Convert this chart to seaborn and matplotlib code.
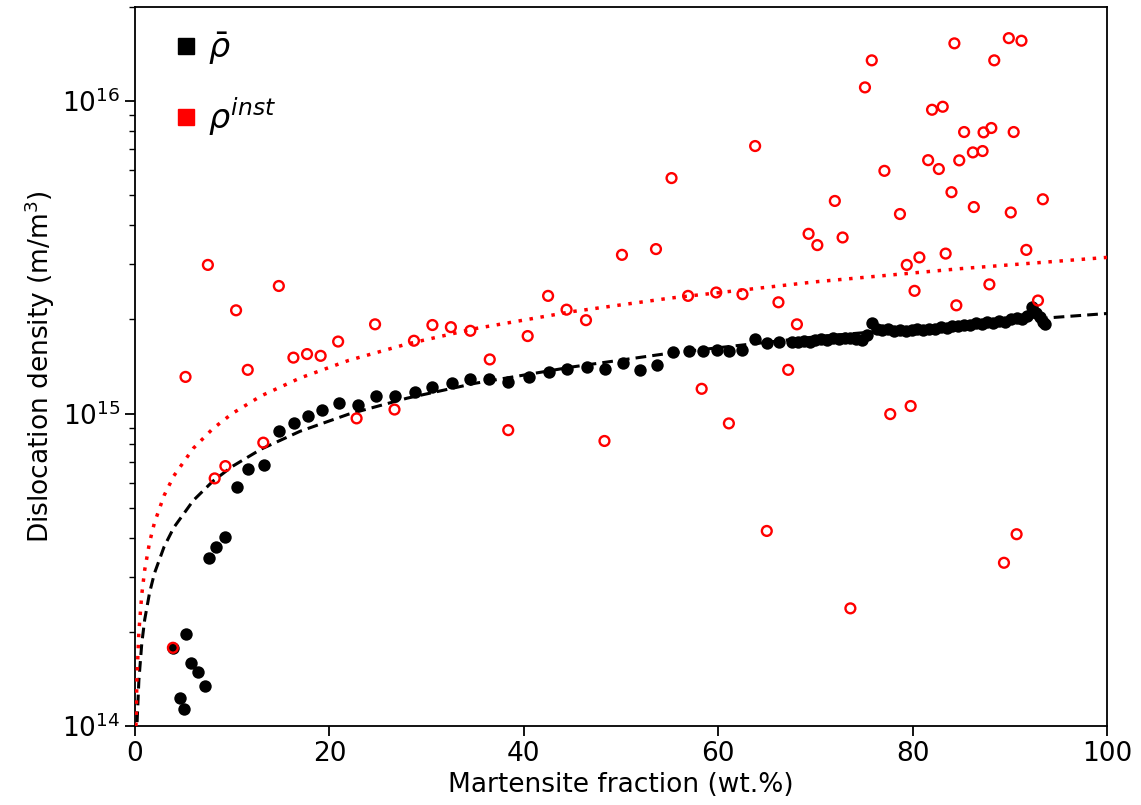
import numpy as np
import pandas as pd
import matplotlib
matplotlib.use("Agg")
import matplotlib.pyplot as plt
import seaborn as sns
from matplotlib.lines import Line2D


# ----------------------------
# Data
# ----------------------------

# mean dislocation density (filled black dots)
mean_frac = [3.9, 4.6, 5.0, 5.3, 5.8, 6.5, 7.2, 7.6, 8.3, 9.3, 10.5, 11.6, 13.3,
             14.8, 16.4, 17.8, 19.2, 21.0, 22.9, 24.8, 26.8, 28.8, 30.6, 32.6,
             34.5, 36.4, 38.4, 40.5, 42.6, 44.4, 46.5, 48.4, 50.2, 52.0, 53.7,
             55.3, 57.0, 58.4, 59.9, 61.1, 62.5, 63.8, 65.0, 66.3, 67.6,
             68.2, 68.8, 69.4, 70.0, 70.6, 71.2, 71.8, 72.4, 73.0, 73.6, 74.2,
             74.8, 75.3, 75.8, 76.3, 76.9, 77.5, 78.1, 78.7, 79.3, 79.9, 80.5,
             81.1, 81.7, 82.3, 82.9, 83.5, 84.1, 84.7, 85.3, 85.9, 86.5, 87.1,
             87.7, 88.3, 88.9, 89.5, 90.1, 90.7, 91.3, 91.8, 92.3, 92.7, 93.1,
             93.4, 93.6]
mean_rho = [1.78e14, 1.23e14, 1.13e14, 1.97e14, 1.59e14, 1.49e14, 1.34e14,
            3.45e14, 3.74e14, 4.03e14, 5.83e14, 6.67e14, 6.84e14, 8.81e14,
            9.35e14, 9.82e14, 1.026e15, 1.08e15, 1.065e15, 1.134e15, 1.134e15,
            1.176e15, 1.216e15, 1.252e15, 1.294e15, 1.29e15, 1.266e15, 1.306e15,
            1.354e15, 1.388e15, 1.409e15, 1.388e15, 1.454e15, 1.378e15, 1.43e15,
            1.573e15, 1.589e15, 1.589e15, 1.595e15, 1.582e15, 1.595e15, 1.731e15,
            1.68e15, 1.697e15, 1.697e15,
            1.70e15, 1.71e15, 1.70e15, 1.72e15, 1.73e15, 1.72e15, 1.74e15,
            1.73e15, 1.75e15, 1.74e15, 1.73e15, 1.72e15, 1.78e15, 1.95e15,
            1.86e15, 1.85e15, 1.86e15, 1.84e15, 1.85e15, 1.84e15, 1.85e15,
            1.86e15, 1.85e15, 1.87e15, 1.87e15, 1.89e15, 1.88e15, 1.91e15,
            1.90e15, 1.92e15, 1.92e15, 1.95e15, 1.93e15, 1.96e15, 1.95e15,
            1.98e15, 1.97e15, 2.00e15, 2.02e15, 2.01e15, 2.05e15, 2.20e15,
            2.10e15, 2.03e15, 1.96e15, 1.94e15]

# instantaneous dislocation density (red open circles)
inst_frac = [3.9, 5.2, 7.5, 8.2, 9.3, 10.4, 11.6, 13.2, 14.8, 16.3, 17.7, 19.1,
             20.9, 22.8, 24.7, 26.7, 28.7, 30.6, 32.5, 34.5, 36.5, 38.4, 40.4,
             42.5, 44.4, 46.4, 48.3, 50.1, 53.6, 55.2, 56.9, 58.3, 59.8, 61.1,
             62.5, 63.8, 65.0, 66.2, 67.2, 68.1, 69.3, 70.2, 72.0, 72.8, 73.6,
             75.1, 75.8, 77.1, 77.7, 78.7, 79.4, 79.8, 80.2, 80.7, 81.6, 82.0,
             82.7, 83.1, 83.4, 84.0, 84.3, 84.5, 84.8, 85.3, 86.2, 86.3, 87.2,
             87.3, 87.9, 88.1, 88.4, 89.4, 89.9, 90.1, 90.4, 90.7, 91.2, 91.7,
             92.9, 93.4]
inst_rho = [1.78e14, 1.31e15, 2.99e15, 6.20e14, 6.79e14, 2.14e15, 1.38e15,
            8.07e14, 2.56e15, 1.51e15, 1.55e15, 1.53e15, 1.70e15, 9.65e14,
            1.93e15, 1.03e15, 1.71e15, 1.92e15, 1.89e15, 1.84e15, 1.49e15,
            8.85e14, 1.77e15, 2.38e15, 2.15e15, 1.99e15, 8.17e14, 3.22e15,
            3.36e15, 5.67e15, 2.38e15, 1.20e15, 2.44e15, 9.30e14, 2.41e15,
            7.18e15, 4.21e14, 2.27e15, 1.38e15, 1.93e15, 3.76e15, 3.46e15,
            4.79e15, 3.66e15, 2.38e14, 1.106e16, 1.35e16, 5.98e15, 9.96e14,
            4.35e15, 2.99e15, 1.057e15, 2.47e15, 3.16e15, 6.47e15, 9.38e15,
            6.06e15, 9.59e15, 3.25e15, 5.11e15, 1.53e16, 2.22e15, 6.46e15,
            7.96e15, 6.85e15, 4.58e15, 6.92e15, 7.94e15, 2.59e15, 8.20e15,
            1.35e16, 3.33e14, 1.59e16, 4.40e15, 7.96e15, 4.11e14, 1.56e16,
            3.34e15, 2.30e15, 4.85e15]

# fitted curves (values read along the dashed / dotted lines)
fit_frac = [0.1, 0.2, 0.4, 0.7, 1.0, 1.5, 2.0, 3.0, 4.0, 6.0, 8.0, 10.0, 13.0,
            17.0, 22.0, 28.0, 35.0, 45.0, 55.0, 70.0, 85.0, 100.0]
fit_mean = [7.1e13, 1.0e14, 1.40e14, 1.84e14, 2.19e14, 2.67e14, 3.08e14,
            3.75e14, 4.32e14, 5.27e14, 6.07e14, 6.77e14, 7.70e14, 8.78e14,
            9.96e14, 1.12e15, 1.25e15, 1.41e15, 1.56e15, 1.76e15, 1.93e15,
            2.09e15]
fit_inst = [1.0e14, 1.41e14, 2.0e14, 2.64e14, 3.16e14, 3.87e14, 4.47e14,
            5.47e14, 6.32e14, 7.74e14, 8.94e14, 1.0e15, 1.14e15, 1.30e15,
            1.48e15, 1.67e15, 1.87e15, 2.12e15, 2.34e15, 2.64e15, 2.91e15,
            3.16e15]

mean_df = pd.DataFrame({"frac": mean_frac, "rho": mean_rho})
inst_df = pd.DataFrame({"frac": inst_frac, "rho": inst_rho})
fit_df = pd.DataFrame({"frac": fit_frac, "mean": fit_mean, "inst": fit_inst})


# ----------------------------
# Plot
# ----------------------------

sns.set_style("ticks")
plt.rcParams["font.family"] = ["DejaVu Sans"]
plt.rcParams["text.color"] = "black"
plt.rcParams["axes.labelcolor"] = "black"
plt.rcParams["xtick.color"] = "black"
plt.rcParams["ytick.color"] = "black"

fig = plt.figure(figsize=(11.41, 8.05), dpi=100)
ax = fig.add_axes([0.1183, 0.0981, 0.8519, 0.8932])

sns.scatterplot(data=mean_df, x="frac", y="rho", ax=ax, color="black",
                s=80, linewidth=0, zorder=3)

sns.lineplot(data=fit_df, x="frac", y="mean", ax=ax, color="black",
             linestyle=(0, (3.5, 2)), linewidth=2.2, estimator=None, sort=False,
             zorder=4)
sns.lineplot(data=fit_df, x="frac", y="inst", ax=ax, color="red",
             linestyle=(0, (1, 2.2)), linewidth=2.5, estimator=None, sort=False,
             zorder=4)

sns.scatterplot(data=inst_df, x="frac", y="rho", ax=ax, color="red",
                facecolors="none", edgecolor="red", s=50, linewidth=1.7,
                zorder=5)

ax.set_yscale("log")
ax.set_xlim(0, 100)
ax.set_ylim(1e14, 2e16)

ax.set_xlabel("Martensite fraction (wt.%)", fontsize=19)
ax.set_ylabel("Dislocation density (m/m$^3$)", fontsize=19)
ax.tick_params(axis="both", which="major", labelsize=19, length=7, width=1.3,
               direction="out", color="black")
ax.tick_params(axis="y", which="minor", length=4, width=1.0, color="black")

for spine in ax.spines.values():
    spine.set_linewidth(1.3)
    spine.set_color("black")

handles = [
    Line2D([], [], marker="s", linestyle="", color="black", markersize=11),
    Line2D([], [], marker="s", linestyle="", color="red", markersize=11),
]
ax.legend(handles, [r"$\bar{\rho}$", r"$\rho^{inst}$"], loc="upper left",
          frameon=False, fontsize=24, handlelength=0.8, handletextpad=0.25,
          labelspacing=0.85, borderaxespad=0.3, bbox_to_anchor=(0.015, 1.0))

plt.savefig("out.png", dpi=100)
plt.close()
